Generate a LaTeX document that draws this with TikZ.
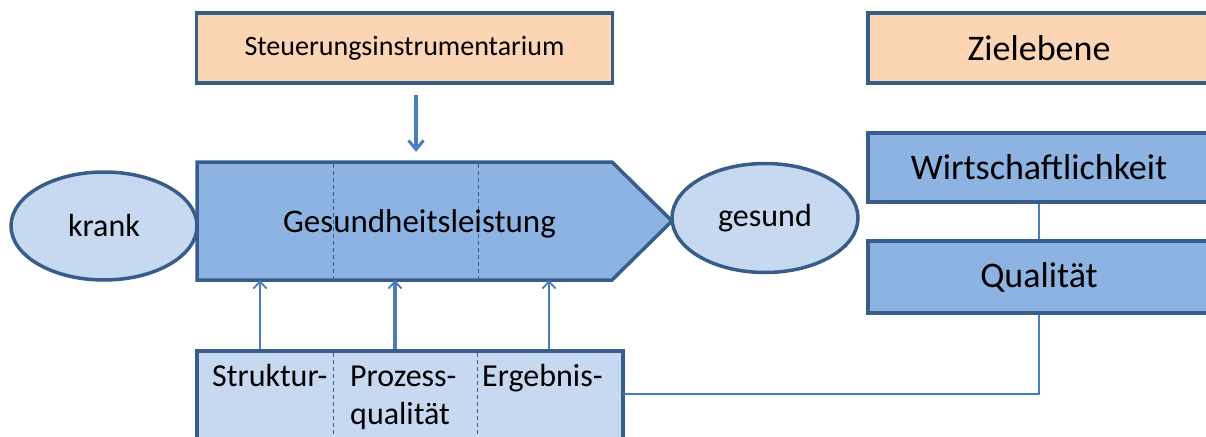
\documentclass[tikz,border=0pt]{standalone}
\usepackage{fontspec}
\setmainfont{Carlito}
\usetikzlibrary{shapes.geometric,arrows.meta}
\definecolor{peach}{HTML}{FCD5B5}
\definecolor{midblue}{HTML}{8DB3E2}
\definecolor{lightblue}{HTML}{C6D9F1}
\definecolor{bordercol}{HTML}{385D8A}
\definecolor{conn}{HTML}{4A7EBB}
\begin{document}
\begin{tikzpicture}[x=1pt,y=-1pt,
  box/.style={draw=bordercol, line width=3.5pt, rectangle, inner sep=0pt},
  headbox/.style={box, fill=peach},
  zielbox/.style={box, fill=midblue, font=\fontsize{36}{40}\selectfont},
  oval/.style={ellipse, draw=bordercol, line width=3.5pt, fill=lightblue, inner sep=0pt,
    minimum width=186pt, minimum height=108pt, font=\fontsize{32}{36}\selectfont},
  sep/.style={draw=bordercol, line width=1pt, dash pattern=on 4pt off 3pt},
  uparrow/.style={draw=conn, line width=2.2pt, -{Straight Barb[length=7pt,width=13pt,line width=1.8pt]}},
  link/.style={draw=conn, line width=2.5pt},
  lbl/.style={anchor=base west, inner sep=0pt, font=\fontsize{32}{36}\selectfont}
]
\useasboundingbox (0,0) rectangle (1206,436);
\clip (0,0) rectangle (1206,436);

% top boxes
\node[headbox, minimum width=416pt, minimum height=70pt, font=\fontsize{28}{32}\selectfont]
  (steuer) at (404.5,48) {Steuerungsinstrumentarium};
\node[headbox, minimum width=342pt, minimum height=70pt, font=\fontsize{36}{40}\selectfont]
  (ziel) at (1039,48) {Zielebene};

% right column
\node[zielbox, minimum width=342pt, minimum height=69pt] (wirt) at (1039,167.5) {Wirtschaftlichkeit};
\node[zielbox, minimum width=342pt, minimum height=72pt] (qual) at (1039,277) {Qualität};
\draw[link] (wirt.south) -- (qual.north);

% krank
\node[oval] (krank) at (104,226) {krank};

% pentagon
\draw[bordercol, line width=3.5pt, fill=midblue, line join=miter]
  (197,162) -- (612,162) -- (672,221) -- (612,280) -- (197,280) -- cycle;
\node[inner sep=0pt, minimum width=415pt, minimum height=118pt] (gl) at (404.5,221) {};
\draw[sep] (333,164) -- (333,278);
\draw[sep] (478,164) -- (478,278);
\node[anchor=base, inner sep=0pt, font=\fontsize{33}{36}\selectfont] (gltext) at (419.5,232) {Gesundheitsleistung};

% gesund
\node[oval, minimum height=109pt] (gesund) at (765,218) {gesund};

% bottom box
\node[box, fill=lightblue, minimum width=426pt, minimum height=94pt] (qbox) at (410,398) {};
\draw[sep] (333,353) -- (333,445);
\draw[sep] (477,353) -- (477,445);
\node[lbl] (t1) at (212,386) {Struktur-};
\node[lbl] (t2) at (350,386) {Prozess-};
\node[lbl] (t3) at (350,424) {qualität};
\node[lbl] (t4) at (482,386) {Ergebnis-};

% arrows
\coordinate (a0) at (416,0);
\coordinate (a1) at (260,0);
\coordinate (a2) at (395,0);
\coordinate (a3) at (549,0);
\draw[draw=conn, line width=3.5pt, -{Straight Barb[length=9pt,width=15pt,line width=3pt]},
  shorten <=10pt, shorten >=10pt] (a0 |- steuer.south) -- (a0 |- gl.north);
\draw[uparrow] (a1 |- qbox.north) -- (a1 |- gl.south);
\draw[uparrow, line width=3.5pt] (a2 |- qbox.north) -- (a2 |- gl.south);
\draw[uparrow] (a3 |- qbox.north) -- (a3 |- gl.south);

% link to Qualität
\coordinate (ergR) at (623,394);
\draw[link, line width=1.8pt] (ergR) -| (qual.south);
\end{tikzpicture}
\end{document}
